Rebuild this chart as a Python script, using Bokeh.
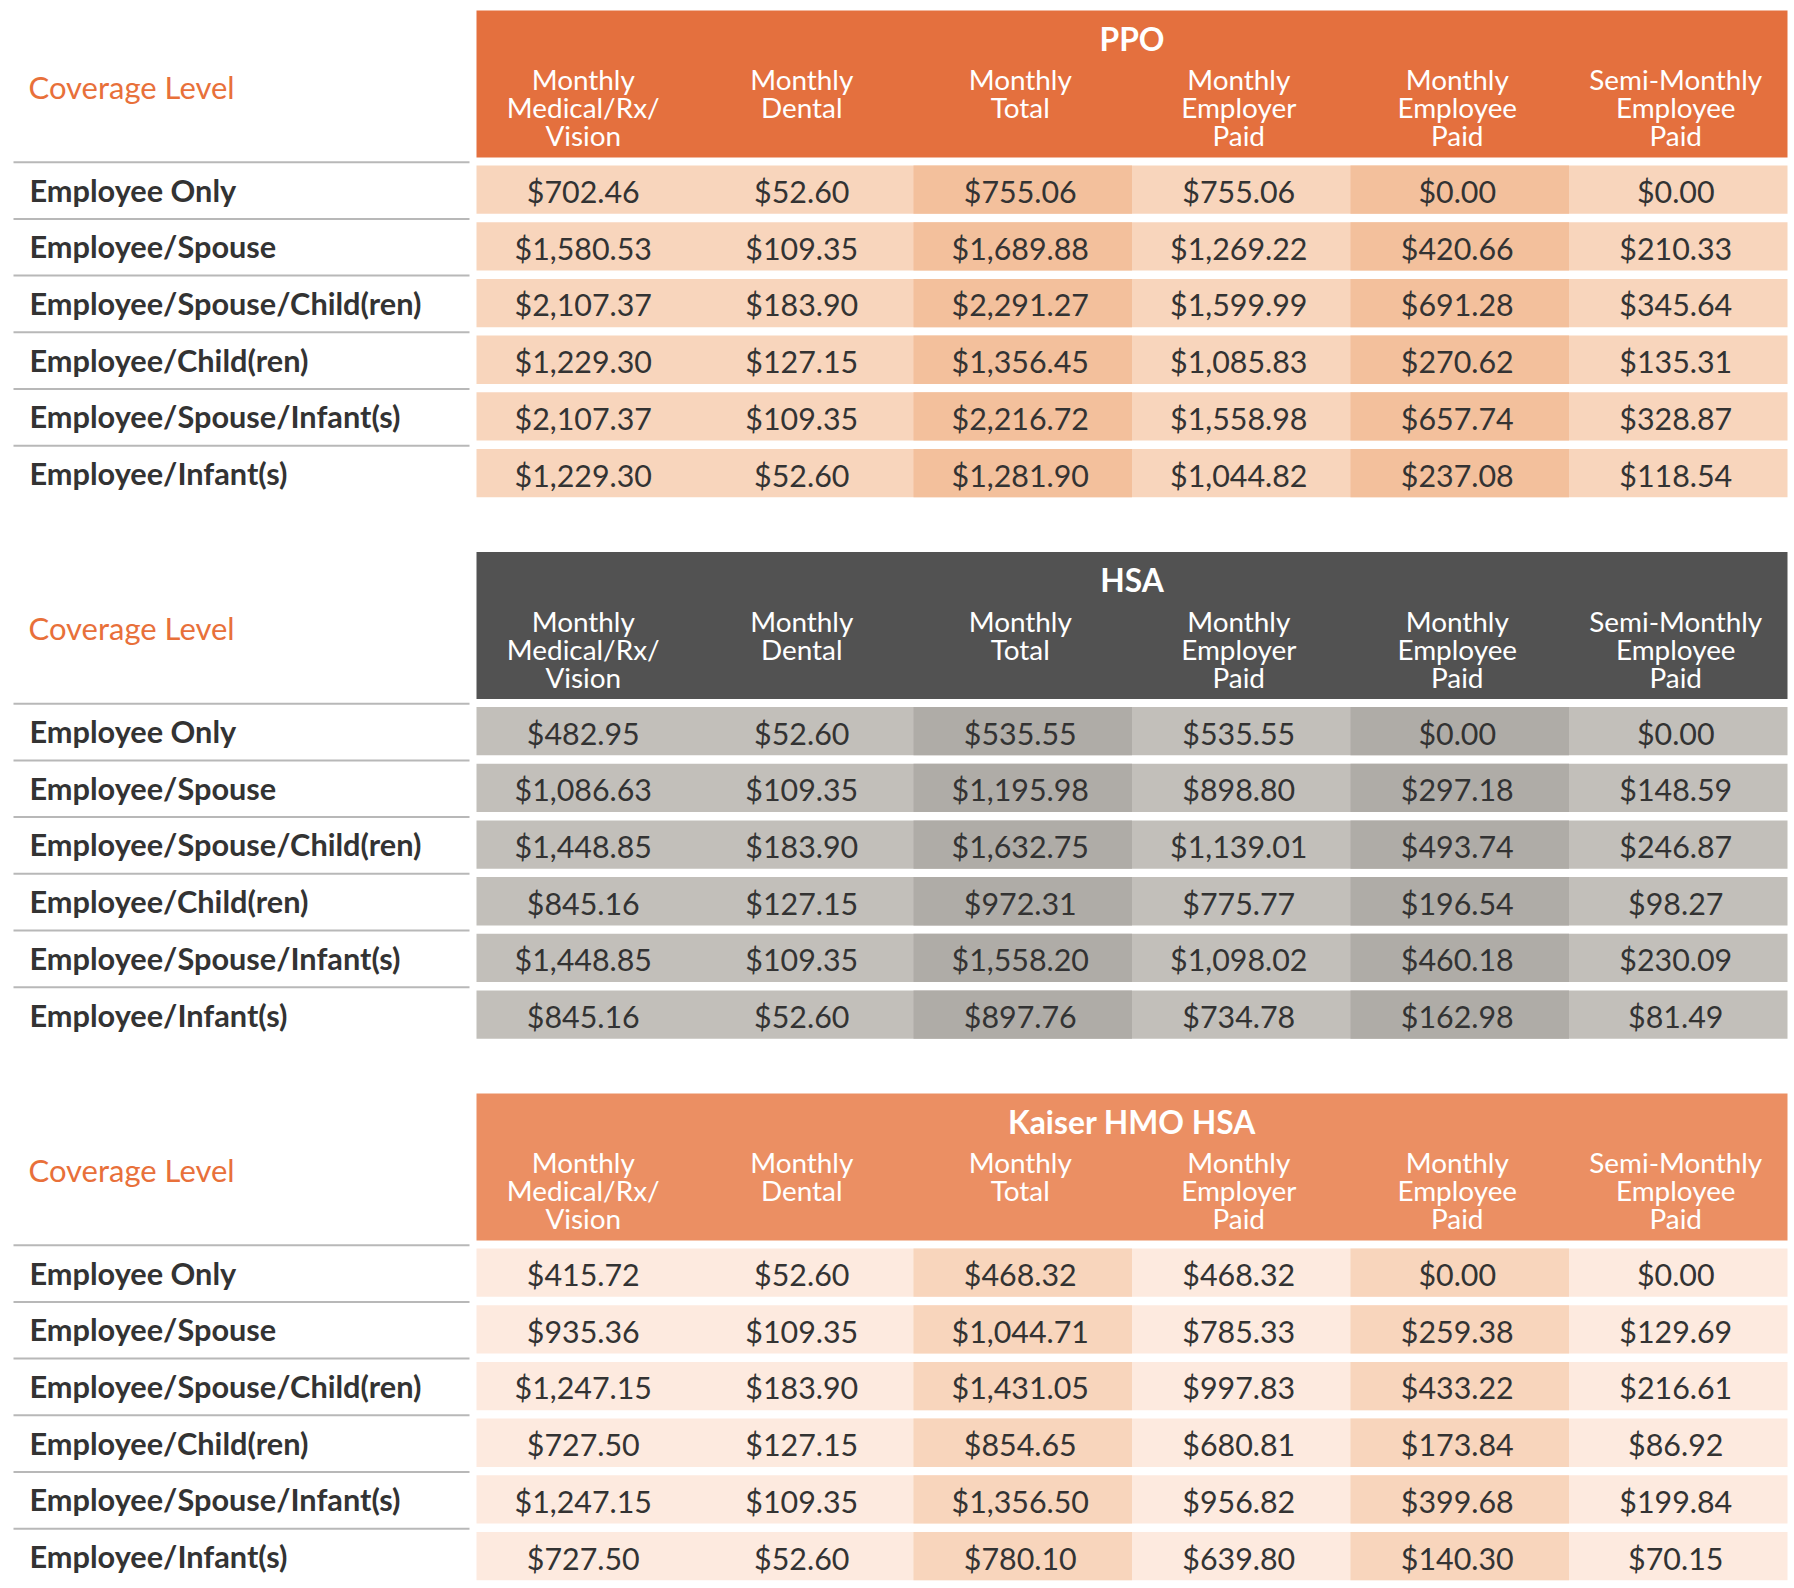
from bokeh.plotting import figure
from bokeh.models import Range1d, ColumnDataSource
from bokeh.embed import file_html
from bokeh.resources import INLINE
from bokeh.core.properties import value

# ---------------- data ----------------
plans = ["PPO", "HSA", "Kaiser HMO HSA"]
row_header = "Coverage Level"
coverage_levels = ["Employee Only", "Employee/Spouse", "Employee/Spouse/Child(ren)",
                   "Employee/Child(ren)", "Employee/Spouse/Infant(s)", "Employee/Infant(s)"]
column_headers = [["Monthly", "Medical/Rx/", "Vision"],
                  ["Monthly", "Dental"],
                  ["Monthly", "Total"],
                  ["Monthly", "Employer", "Paid"],
                  ["Monthly", "Employee", "Paid"],
                  ["Semi-Monthly", "Employee", "Paid"]]

ppo_medical = [702.46, 1580.53, 2107.37, 1229.30, 2107.37, 1229.30]
ppo_dental = [52.60, 109.35, 183.90, 127.15, 109.35, 52.60]
ppo_total = [755.06, 1689.88, 2291.27, 1356.45, 2216.72, 1281.90]
ppo_employer = [755.06, 1269.22, 1599.99, 1085.83, 1558.98, 1044.82]
ppo_employee = [0.00, 420.66, 691.28, 270.62, 657.74, 237.08]
ppo_semi = [0.00, 210.33, 345.64, 135.31, 328.87, 118.54]

hsa_medical = [482.95, 1086.63, 1448.85, 845.16, 1448.85, 845.16]
hsa_dental = [52.60, 109.35, 183.90, 127.15, 109.35, 52.60]
hsa_total = [535.55, 1195.98, 1632.75, 972.31, 1558.20, 897.76]
hsa_employer = [535.55, 898.80, 1139.01, 775.77, 1098.02, 734.78]
hsa_employee = [0.00, 297.18, 493.74, 196.54, 460.18, 162.98]
hsa_semi = [0.00, 148.59, 246.87, 98.27, 230.09, 81.49]

kaiser_medical = [415.72, 935.36, 1247.15, 727.50, 1247.15, 727.50]
kaiser_dental = [52.60, 109.35, 183.90, 127.15, 109.35, 52.60]
kaiser_total = [468.32, 1044.71, 1431.05, 854.65, 1356.50, 780.10]
kaiser_employer = [468.32, 785.33, 997.83, 680.81, 956.82, 639.80]
kaiser_employee = [0.00, 259.38, 433.22, 173.84, 399.68, 140.30]
kaiser_semi = [0.00, 129.69, 216.61, 86.92, 199.84, 70.15]

plan_tables = [
    [ppo_medical, ppo_dental, ppo_total, ppo_employer, ppo_employee, ppo_semi],
    [hsa_medical, hsa_dental, hsa_total, hsa_employer, hsa_employee, hsa_semi],
    [kaiser_medical, kaiser_dental, kaiser_total, kaiser_employer, kaiser_employee, kaiser_semi],
]

# ---------------- styles / layout ----------------
header_colors = ["#E4703E", "#525252", "#EB8F63"]
cell_light = ["#F8D5BC", "#C2BFBA", "#FDEADF"]
cell_dark = ["#F3C09C", "#AFACA7", "#F8D5BC"]
dark_cols = [2, 4]
ORANGE = "#E8703A"
TEXT = "#333333"
LINE = "#B8B8B8"
FONT = "Lato"

TABLE_TOP = [10, 551.5, 1093]
HEADER_H = 147
COL_LEFT = 476
COL_W = 218.5
ROW_TOP0 = 155
ROW_H = 48.3
ROW_PITCH = 56.7
LINE_Y0 = 151.7
LINE_X0, LINE_X1 = 13, 469
LABEL_X = 29
TEXT_DX = -2.5

W, H = 1794, 1588
p = figure(width=W, height=H, output_backend="svg", toolbar_location=None,
           x_range=Range1d(0, W), y_range=Range1d(H, 0),
           x_axis_location=None, y_axis_location=None,
           min_border=0, min_border_left=0, min_border_right=0,
           min_border_top=0, min_border_bottom=0)
p.grid.visible = False
p.outline_line_color = None
p.background_fill_color = "white"
p.border_fill_color = "white"

ncol = len(column_headers)
nrow = len(coverage_levels)

for t, plan in enumerate(plans):
    top = TABLE_TOP[t]
    right_edge = COL_LEFT + ncol * COL_W
    # header block
    p.quad(left=[COL_LEFT], right=[right_edge], top=[top], bottom=[top + HEADER_H],
           fill_color=header_colors[t], line_color=None)
    # plan title
    p.text(x=[(COL_LEFT + right_edge) / 2], y=[top + 28], text=[plan], text_align="center",
           text_baseline="middle", text_color="white", text_font=value(FONT),
           text_font_style="bold", text_font_size=value("31.8px"))
    # column header lines
    hx, hy, ht = [], [], []
    for c, lines in enumerate(column_headers):
        for k, ln in enumerate(lines):
            hx.append(COL_LEFT + (c + 0.5) * COL_W + TEXT_DX)
            hy.append(top + 68.5 + k * 28.2)
            ht.append(ln)
    p.text(x=hx, y=hy, text=ht, text_align="center", text_baseline="middle",
           text_color="white", text_font=value(FONT), text_font_size=value("27.9px"))
    # row header
    p.text(x=[LABEL_X - 1], y=[top + 76], text=[row_header], text_align="left",
           text_baseline="middle", text_color=ORANGE, text_font=value(FONT),
           text_font_size=value("31px"))
    # separator lines
    ly = [top + LINE_Y0 + r * ROW_PITCH for r in range(nrow)]
    p.segment(x0=[LINE_X0] * nrow, x1=[LINE_X1] * nrow, y0=ly, y1=ly,
              line_color=LINE, line_width=2)
    # row backgrounds (light), then darker columns on top
    row_tops = [top + ROW_TOP0 + r * ROW_PITCH for r in range(nrow)]
    p.quad(left=[COL_LEFT] * nrow, right=[right_edge] * nrow, top=row_tops,
           bottom=[rt + ROW_H for rt in row_tops], fill_color=cell_light[t], line_color=None)
    dl, dr, dt, db = [], [], [], []
    for c in dark_cols:
        for rt in row_tops:
            dl.append(COL_LEFT + c * COL_W)
            dr.append(COL_LEFT + (c + 1) * COL_W)
            dt.append(rt)
            db.append(rt + ROW_H)
    p.quad(left=dl, right=dr, top=dt, bottom=db, fill_color=cell_dark[t], line_color=None)
    # values
    vx, vy, vt = [], [], []
    for c, series in enumerate(plan_tables[t]):
        for r, v in enumerate(series):
            vx.append(COL_LEFT + (c + 0.5) * COL_W + TEXT_DX)
            vy.append(row_tops[r] + 25.5)
            vt.append("${:,.2f}".format(v))
    p.text(x=vx, y=vy, text=vt, text_align="center", text_baseline="middle",
           text_color=TEXT, text_font=value(FONT), text_font_size=value("30.4px"))
    # row labels
    p.text(x=[LABEL_X] * nrow, y=[rt + 24.5 for rt in row_tops], text=coverage_levels,
           text_align="left", text_baseline="middle", text_color=TEXT,
           text_font=value(FONT), text_font_style="bold", text_font_size=value("30.7px"))

open("out.html", "w").write(file_html(p, INLINE))
